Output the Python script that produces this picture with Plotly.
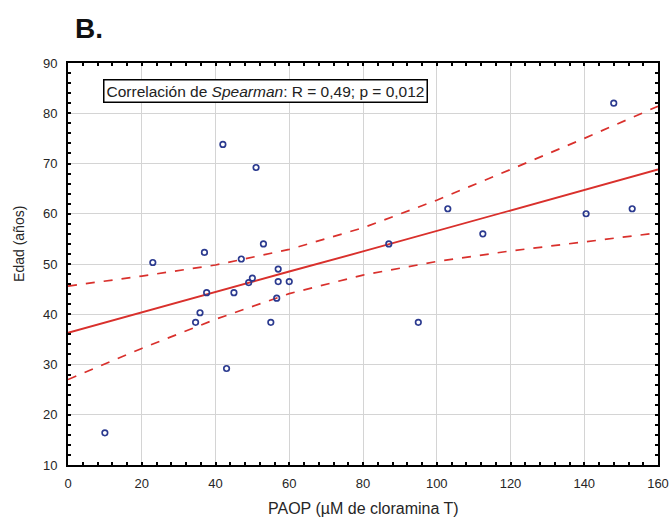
import plotly.graph_objects as go

# Scatter data
paop = [10, 23, 37, 42, 51, 53, 47, 57, 57, 60, 50, 49, 37.6, 45, 56.6,
        35.8, 34.6, 55, 43, 148, 103, 87, 112.5, 140.5, 153, 95]
edad = [16.4, 50.3, 52.3, 73.8, 69.2, 54, 51, 49, 46.5, 46.5, 47.2, 46.3, 44.3, 44.3, 43.2,
        40.3, 38.4, 38.4, 29.2, 82, 61, 54, 56, 60, 61, 38.4]

# Regression line and confidence band
band_x = [0, 20, 40, 60, 80, 100, 120, 140, 160]
fit_y = [36.3, 40.4, 44.4, 48.5, 52.5, 56.6, 60.7, 64.7, 68.8]
upper_y = [45.6, 47.6, 49.8, 52.9, 57.2, 62.7, 68.8, 75.0, 81.4]
lower_y = [27.0, 33.2, 39.0, 44.1, 47.8, 50.5, 52.6, 54.4, 56.2]

x_ticks = [0, 20, 40, 60, 80, 100, 120, 140, 160]
y_ticks = [10, 20, 30, 40, 50, 60, 70, 80, 90]

RED = "#d9302c"
NAVY = "#2b3a8f"
FONT = "Liberation Sans, Arial, sans-serif"
TXT = "#262626"

fig = go.Figure()
fig.add_trace(go.Scatter(x=band_x, y=upper_y, mode="lines",
                         line=dict(color=RED, width=1.7, dash="dash"), hoverinfo="skip"))
fig.add_trace(go.Scatter(x=band_x, y=lower_y, mode="lines",
                         line=dict(color=RED, width=1.7, dash="dash"), hoverinfo="skip"))
fig.add_trace(go.Scatter(x=band_x, y=fit_y, mode="lines",
                         line=dict(color=RED, width=1.9), hoverinfo="skip"))
fig.add_trace(go.Scatter(x=paop, y=edad, mode="markers",
                         marker=dict(symbol="circle-open", size=5.5, color=NAVY,
                                     line=dict(width=1.7, color=NAVY))))

axis_common = dict(
    showline=True, linecolor="black", linewidth=2, mirror="allticks",
    showgrid=True, gridcolor="#d4d4d4", gridwidth=1,
    ticks="inside", ticklen=3, tickcolor="black", tickwidth=1.5,
    zeroline=False, automargin=False,
    tickfont=dict(family=FONT, size=13, color=TXT),
)

fig.update_layout(
    width=672, height=521,
    margin=dict(l=68, r=14, t=63, b=56),
    paper_bgcolor="white", plot_bgcolor="white",
    showlegend=False,
    font=dict(family=FONT, color=TXT),
    xaxis=dict(range=[0, 160], tickvals=x_ticks, ticklabelstandoff=5,
               minor=dict(dtick=4, ticks="inside", ticklen=3, tickcolor="black", tickwidth=1.5, showgrid=False),
               **axis_common),
    yaxis=dict(range=[10, 90], tickvals=y_ticks, ticklabelstandoff=6,
               minor=dict(dtick=2, ticks="inside", ticklen=3, tickcolor="black", tickwidth=1.5, showgrid=False),
               **axis_common),
    annotations=[
        dict(text="Correlación de <i>Spearman</i>: R = 0,49; p = 0,012",
             xref="paper", yref="paper", x=0.0593, y=0.960, xanchor="left", yanchor="top",
             showarrow=False, font=dict(family=FONT, size=15.5, color="#222222"),
             bgcolor="white", bordercolor="black", borderwidth=1.5, borderpad=2),
        dict(text="<b>B.</b>", xref="paper", yref="paper", x=0.0085, y=1.129,
             xanchor="left", yanchor="top", showarrow=False,
             font=dict(family=FONT, size=28, color="#111111")),
        dict(text="Edad (años)", xref="paper", yref="paper", x=-0.083, y=0.55,
             xanchor="center", yanchor="middle", textangle=-90, showarrow=False,
             font=dict(family=FONT, size=14, color=TXT)),
        dict(text="PAOP (µM de cloramina T)", xref="paper", yref="paper", x=0.5, y=-0.109,
             xanchor="center", yanchor="middle", showarrow=False,
             font=dict(family=FONT, size=16, color=TXT)),
    ],
)

# Remove the default 8px page margin so the 672x521 figure fills the window exactly.
fig.write_html("out.html", config={"displayModeBar": False},
               post_script="document.body.style.margin='0px';")
